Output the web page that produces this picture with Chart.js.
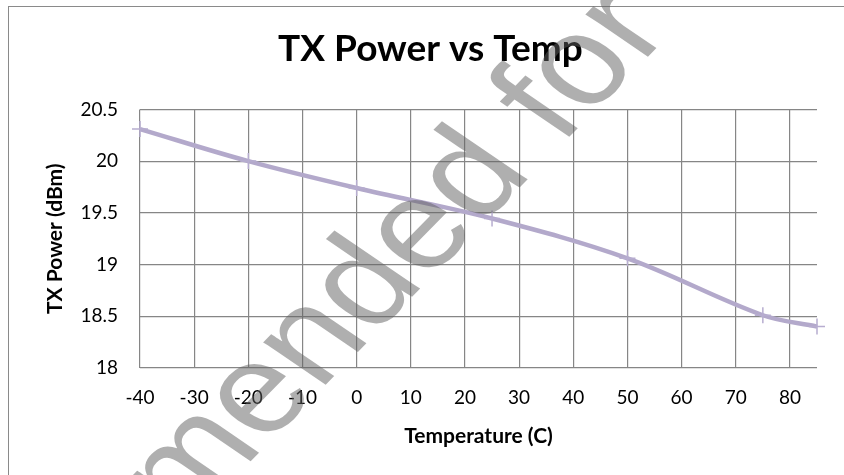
<!DOCTYPE html>
<html lang="en">
<head>
    <meta charset="UTF-8">
    <title>TX Power vs Temp</title>
    <style>
        body {
            margin: 0;
            background: #fff;
            overflow: hidden;
        }
        .frame {
            position: absolute;
            left: 8px;
            top: 6px;
            width: 900px;
            height: 600px;
            border: 1.5px solid #8a8a8a;
        }
        .chart-box {
            position: absolute;
            left: 0;
            top: 0;
            width: 844px;
            height: 475px;
        }
    </style>
</head>
<body>
<div class="frame"></div>
<div class="chart-box">
    <canvas id="txChart" width="844" height="475"></canvas>
</div>
<script src="https://cdn.jsdelivr.net/npm/chart.js"></script>
<script>
// values
const temps = [-40, -20, 0, 25, 50, 75, 85];
const txPower = [20.31, 20.0, 19.74, 19.445, 19.06, 18.51, 18.40];
const xTicks = [-40, -30, -20, -10, 0, 10, 20, 30, 40, 50, 60, 70, 80];
const yTicks = ['18', '18.5', '19', '19.5', '20', '20.5'];
const watermark = 'Not Recommended for New Designs';

// grey diagonal watermark, drawn over the plot
const watermarkPlugin = {
    id: 'watermark',
    afterDraw(chart) {
        const ctx = chart.ctx;
        ctx.save();
        ctx.font = '127px "Liberation Sans", Arial, sans-serif';
        ctx.fillStyle = 'rgba(95, 95, 95, 0.5)';
        ctx.textBaseline = 'alphabetic';
        const lead = ctx.measureText('Not Recom').width;
        ctx.translate(185, 528);
        ctx.scale(1.2, 1);
        ctx.rotate(-50.7 * Math.PI / 180);
        ctx.fillText(watermark, -lead, 0);
        ctx.restore();
    }
};

const ctx = document.getElementById('txChart').getContext('2d');
new Chart(ctx, {
    type: 'line',
    data: {
        datasets: [{
            label: 'TX Power',
            data: temps.map((t, i) => ({ x: t, y: txPower[i] })),
            borderColor: '#b3a9cb',
            borderWidth: 4.5,
            tension: 0.35,
            pointStyle: 'cross',
            pointRadius: 8,
            pointBorderWidth: 1.5,
            pointBorderColor: '#b7add0',
            clip: false
        }]
    },
    options: {
        responsive: false,
        animation: false,
        devicePixelRatio: 1,
        layout: {
            padding: { left: 44, right: 27, top: 0, bottom: 0 }
        },
        plugins: {
            legend: { display: false },
            tooltip: { enabled: false },
            title: {
                display: true,
                text: 'TX Power vs Temp',
                color: '#000',
                font: { family: 'Lato', size: 37, weight: 'bold' },
                padding: { top: 27, bottom: 38 }
            }
        },
        scales: {
            x: {
                type: 'linear',
                min: -40,
                max: 85,
                afterBuildTicks: (scale) => {
                    scale.ticks = xTicks.map(v => ({ value: v }));
                },
                afterFit: (scale) => { scale.height = 107; },
                grid: { color: '#868686', lineWidth: 1.2, drawTicks: false },
                border: { display: false },
                ticks: {
                    color: '#000',
                    padding: 18,
                    font: { family: 'Lato', size: 19 },
                    callback: (v) => String(v)
                },
                title: {
                    display: true,
                    text: 'Temperature (C)',
                    color: '#000',
                    font: { family: 'Lato', size: 21, weight: 'bold' },
                    padding: { top: 0, bottom: 26 }
                }
            },
            y: {
                min: 18,
                max: 20.5,
                afterBuildTicks: (scale) => {
                    scale.ticks = yTicks.map(v => ({ value: parseFloat(v) }));
                },
                afterFit: (scale) => { scale.width = 96; },
                grid: { color: '#868686', lineWidth: 1.2, drawTicks: false },
                border: { display: false },
                ticks: {
                    color: '#000',
                    padding: 22,
                    font: { family: 'Lato', size: 19 },
                    callback: (v) => String(v)
                },
                title: {
                    display: true,
                    text: 'TX Power (dBm)',
                    color: '#000',
                    font: { family: 'Lato', size: 21, weight: 'bold' },
                    padding: { top: -1, bottom: 0 }
                }
            }
        }
    },
    plugins: [watermarkPlugin]
});
</script>
</body>
</html>
